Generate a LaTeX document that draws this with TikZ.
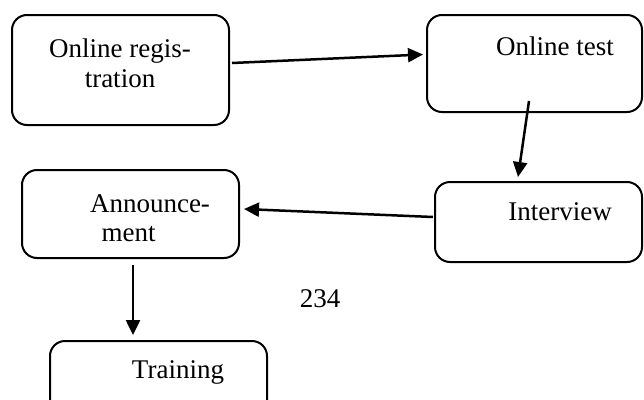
\documentclass[tikz,border=0pt]{standalone}
\usepackage{fontspec}
\setmainfont{Liberation Serif}
\usetikzlibrary{arrows.meta,calc}
\begin{document}
\begin{tikzpicture}[x=1pt,y=-1pt,
  box/.style={draw,line width=2pt,rounded corners=15pt,inner sep=0pt},
  lbl/.style={font=\fontsize{27}{30}\selectfont,inner sep=0pt,anchor=base},
  arr/.style={line width=2.5pt,-{Triangle[length=15pt,width=14pt]}}]
\useasboundingbox (0,0) rectangle (644,399);
% boxes
\node[box,minimum width=217pt,minimum height=110pt] (b1) at (120.5,70) {};
\node[box,minimum width=215pt,minimum height=97pt] (b2) at (534.5,63.5) {};
\node[box,minimum width=207pt,minimum height=80pt] (b3) at (538.5,222) {};
\node[box,minimum width=217pt,minimum height=88pt] (b4) at (130.5,214) {};
\node[box,minimum width=217pt,minimum height=79pt] (b5) at (158.5,380.5) {};
% texts
\node[lbl] (t1a) at (120,57) {Online regis-};
\node[lbl] (t1b) at (120,87) {tration};
\node[lbl] (t2) at (555,55) {Online test};
\node[lbl] (t3) at (560,220) {Interview};
\node[lbl] (t4a) at (150,212) {Announce-};
\node[lbl] (t4b) at (128.5,241) {ment};
\node[lbl] (t5) at (178,378) {Training};
\node[lbl] (pg) at (320,307) {234};
% arrows
\draw[arr] ($(b1.east)+(2,-7)$) -- ($(b2.west)+(-3,-9)$);
\draw[arr] ($(b2.south)+(-5.5,-12)$) -- ($(b3.north)+(-20.5,-4)$);
\draw[arr] ($(b3.west)+(-1,-5)$) -- ($(b4.east)+(4,-5)$);
\draw[arr] ($(b4.south)+(2.5,6)$) -- ($(b5.north)+(-25.5,-5)$);
\end{tikzpicture}
\end{document}
